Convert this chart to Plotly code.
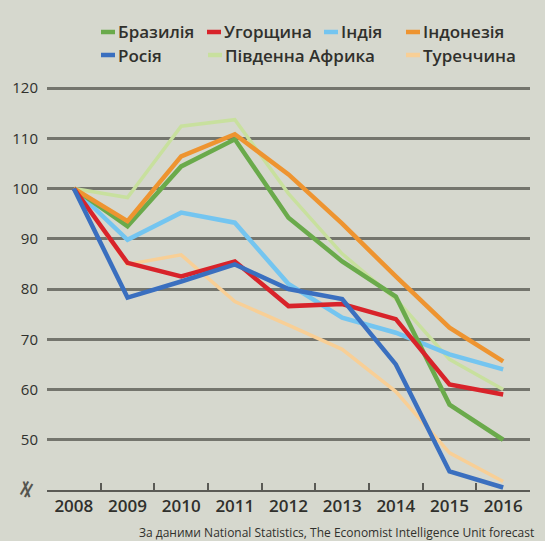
import plotly.graph_objects as go

years = ["2008", "2009", "2010", "2011", "2012", "2013", "2014", "2015", "2016"]

brazil = [100, 92.5, 104.4, 109.8, 94.2, 85.5, 78.5, 57.0, 50.0]
hungary = [100, 85.2, 82.5, 85.5, 76.6, 77.0, 74.0, 61.0, 59.0]
india = [100, 89.8, 95.2, 93.2, 81.0, 74.3, 71.3, 67.0, 64.0]
indonesia = [100, 93.5, 106.4, 110.8, 102.8, 93.0, 82.5, 72.3, 65.6]
russia = [100, 78.3, 81.5, 84.9, 80.0, 78.0, 65.0, 43.7, 40.5]
south_africa = [100, 98.2, 112.4, 113.7, 99.0, 87.0, 78.0, 66.0, 60.0]
turkey = [100, 84.9, 86.8, 77.5, 72.8, 68.0, 59.6, 47.4, 41.7]

yticks = [50, 60, 70, 80, 90, 100, 110, 120]

names = {
    "brazil": "Бразилія", "hungary": "Угорщина", "india": "Індія",
    "indonesia": "Індонезія", "russia": "Росія",
    "south_africa": "Південна Африка", "turkey": "Туреччина",
}
colors = {
    "brazil": "#6aaa4b", "hungary": "#d8232a", "india": "#74c5f0",
    "indonesia": "#ee9430", "russia": "#3a6fbf",
    "south_africa": "#c8e09e", "turkey": "#f8cf96",
}
widths = {
    "brazil": 4.5, "hungary": 4.5, "india": 4.5, "indonesia": 4.5, "russia": 4.5,
    "south_africa": 3.5, "turkey": 3.5,
}
series = {
    "brazil": brazil, "hungary": hungary, "india": india,
    "indonesia": indonesia, "russia": russia,
    "south_africa": south_africa, "turkey": turkey,
}
draw_order = ["south_africa", "turkey", "india", "brazil", "indonesia", "hungary", "russia"]

W, H = 545, 541
L, R, T, B = 47, 15, 83, 51
pw, ph = W - L - R, H - T - B

def px_x(px):
    return (px - L) / pw

def px_y(py):
    return (H - B - py) / ph

fig = go.Figure()
for k in draw_order:
    fig.add_trace(go.Scatter(
        x=years, y=series[k], mode="lines", name=names[k],
        line=dict(color=colors[k], width=widths[k]),
        showlegend=False, hoverinfo="skip",
    ))

font_family = "Open Sans, Noto Sans, sans-serif"
text_color = "#30302c"

# reference line at 100
fig.add_shape(type="line", xref="paper", yref="y", x0=0, x1=1, y0=100, y1=100,
              line=dict(color="#2d2d29", width=3), layer="below")

# manual legend
legend_items = [
    ("brazil", 101, 32), ("hungary", 207, 32), ("india", 324, 32), ("indonesia", 406, 32),
    ("russia", 101, 55), ("south_africa", 208, 55), ("turkey", 406, 55),
]
for k, sx, sy in legend_items:
    fig.add_shape(type="line", xref="paper", yref="paper",
                  x0=px_x(sx), x1=px_x(sx + 14), y0=px_y(sy), y1=px_y(sy),
                  line=dict(color=colors[k], width=4.5))
    fig.add_annotation(xref="paper", yref="paper", x=px_x(sx + 15), y=px_y(sy),
                       text=names[k], showarrow=False, xanchor="left", yanchor="middle",
                       font=dict(family=font_family, size=17, color=text_color, weight=600))

# axis break symbol
fig.add_annotation(xref="paper", yref="paper", x=px_x(26), y=px_y(489),
                   xanchor="center", yanchor="middle",
                   text="≠", showarrow=False, textangle=-60,
                   font=dict(family="DejaVu Sans", size=24, color="#55554f"))

# source
fig.add_annotation(xref="paper", yref="paper", x=px_x(536), y=px_y(532),
                   text="За даними National Statistics, The Economist Intelligence Unit forecast",
                   showarrow=False, xanchor="right", yanchor="middle",
                   font=dict(family=font_family, size=12, color=text_color))

fig.update_layout(
    width=W, height=H,
    margin=dict(l=L, r=R, t=T, b=B, pad=0),
    paper_bgcolor="#d6d8ce", plot_bgcolor="#d6d8ce",
    showlegend=False,
    font=dict(family=font_family, color=text_color),
)
fig.update_xaxes(
    type="category", range=[-0.5, 8.5], tickson="boundaries",
    ticks="inside", ticklen=7, tickwidth=1.5, tickcolor="#5a5a55",
    showline=True, linecolor="#5a5a55", linewidth=2,
    showgrid=False, zeroline=False,
    tickfont=dict(size=17, color=text_color, weight=600),
)
fig.update_yaxes(
    range=[40, 121], tickvals=yticks, ticktext=[str(v) for v in yticks],
    showgrid=True, gridcolor="#74756d", gridwidth=2.5,
    zeroline=False, showline=False, ticks="",
    ticklabelstandoff=8,
    tickfont=dict(size=15, color=text_color),
)

fig.write_html("out.html", config={"displayModeBar": False},
               post_script="document.body.style.margin='0';")
